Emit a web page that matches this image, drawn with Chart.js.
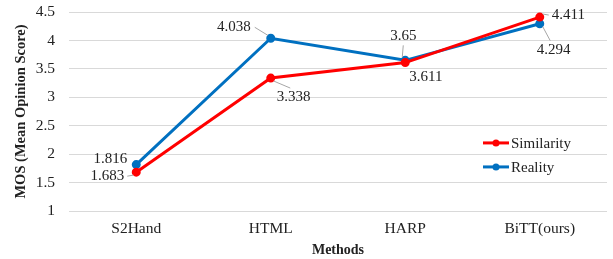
<!DOCTYPE html>
<html>
<head>
<meta charset="utf-8">
<script src="https://cdn.jsdelivr.net/npm/chart.js@4"></script>
<style>
  html, body { margin: 0; padding: 0; background: #fff; }
  #wrap { width: 613px; height: 259px; }
</style>
</head>
<body>
<div id="wrap"><canvas id="chart"></canvas></div>
<script>
const categories = ["S2Hand", "HTML", "HARP", "BiTT(ours)"];
const similarity = [1.683, 3.338, 3.611, 4.411];
const reality = [1.816, 4.038, 3.65, 4.294];
const yTicks = [1, 1.5, 2, 2.5, 3, 3.5, 4, 4.5];

const FONT = "'Liberation Serif', 'Times New Roman', serif";

// label offsets relative to the point: [dx, dy, align, leader?]
const simLabelPos = [[-12, 4, "right", true], [6, 19, "left", true], [4, 15, "left", false], [12, -2, "left", true]];
const realLabelPos = [[-9, -6, "right", false], [-20, -11, "right", true], [-2, -24, "center", true], [-3, 26, "left", true]];

const labelPlugin = {
  id: "labels",
  afterDatasetsDraw(chart) {
    const ctx = chart.ctx;
    ctx.save();
    ctx.font = "15px " + FONT;
    ctx.textBaseline = "middle";
    const sets = [[0, simLabelPos], [1, realLabelPos]];
    sets.forEach(([di, pos]) => {
      const meta = chart.getDatasetMeta(di);
      const vals = chart.data.datasets[di].data;
      meta.data.forEach((pt, i) => {
        const [dx, dy, align, leader] = pos[i];
        const tx = pt.x + dx, ty = pt.y + dy;
        const txt = String(vals[i]);
        ctx.textAlign = align;
        ctx.fillStyle = "#222";
        ctx.fillText(txt, tx, ty);
        if (leader) {
          const w = ctx.measureText(txt).width;
          let lx = tx, ly = ty;
          if (align === "right") lx = tx + 3;
          else if (align === "left") lx = tx - 3;
          else ly = ty + 9;
          if (align === "left" && dy > 10) { lx = tx + w * 0.4; ly = ty - 9; }
          if (align === "right" && dy < -5) { lx = tx + 4; ly = ty; }
          ctx.strokeStyle = "#a6a6a6";
          ctx.lineWidth = 1;
          ctx.beginPath();
          ctx.moveTo(lx, ly);
          ctx.lineTo(pt.x + (lx < pt.x ? -3 : lx > pt.x ? 3 : 0), pt.y + (ly < pt.y ? -3 : 3));
          ctx.stroke();
        }
      });
    });
    ctx.restore();
  }
};

const legendPlugin = {
  id: "insideLegend",
  afterDraw(chart) {
    const ctx = chart.ctx;
    const items = chart.data.datasets;
    const x0 = chart.chartArea.right - 124;
    const y0 = chart.scales.y.getPixelForValue(2.25) + 3;
    ctx.save();
    ctx.font = "15px " + FONT;
    ctx.textBaseline = "middle";
    ctx.textAlign = "left";
    items.forEach((ds, i) => {
      const y = y0 + i * 24;
      ctx.strokeStyle = ds.borderColor;
      ctx.lineWidth = 3;
      ctx.beginPath();
      ctx.moveTo(x0, y);
      ctx.lineTo(x0 + 26, y);
      ctx.stroke();
      ctx.fillStyle = ds.borderColor;
      ctx.beginPath();
      ctx.arc(x0 + 13, y, 3.5, 0, Math.PI * 2);
      ctx.fill();
      ctx.fillStyle = "#222";
      ctx.fillText(ds.label, x0 + 28, y + 1);
    });
    ctx.restore();
  }
};

new Chart(document.getElementById("chart"), {
  type: "line",
  data: {
    labels: categories,
    datasets: [
      {
        label: "Similarity",
        data: similarity,
        borderColor: "#ff0000",
        backgroundColor: "#ff0000",
        borderWidth: 3,
        pointRadius: 3,
        pointHoverRadius: 3,
        tension: 0
      },
      {
        label: "Reality",
        data: reality,
        borderColor: "#0070c0",
        backgroundColor: "#0070c0",
        borderWidth: 3,
        pointRadius: 3,
        pointHoverRadius: 3,
        tension: 0
      }
    ]
  },
  options: {
    responsive: true,
    maintainAspectRatio: false,
    animation: false,
    layout: { padding: { top: 12, right: -2, bottom: 0, left: 13 } },
    plugins: { legend: { display: false }, tooltip: { enabled: false } },
    scales: {
      x: {
        offset: true,
        afterFit(axis) { axis.height = 48; axis.paddingRight = 0; axis.paddingLeft = 0; },
        grid: { display: false, drawTicks: false },
        border: { display: false },
        ticks: { color: "#222", font: { family: FONT, size: 15.5 }, padding: 9 },
        title: { display: true, text: "Methods", color: "#222", font: { family: FONT, size: 14, weight: "bold" }, padding: { top: 0, bottom: 0 } }
      },
      y: {
        min: yTicks[0],
        max: yTicks[yTicks.length - 1],
        afterBuildTicks(axis) { axis.ticks = yTicks.map(v => ({ value: v })); },
        afterFit(axis) { axis.width = 56; axis.paddingTop = 0; axis.paddingBottom = 0; },
        grid: { color: "#d9d9d9", lineWidth: 1, drawTicks: false },
        border: { display: false },
        ticks: { color: "#222", font: { family: FONT, size: 15.5 }, padding: 14, callback: v => String(v) },
        title: { display: true, text: "MOS (Mean Opinion Score)", color: "#222", font: { family: FONT, size: 14.5, weight: "bold" }, padding: { top: 0, bottom: 0 } }
      }
    }
  },
  plugins: [labelPlugin, legendPlugin]
});
</script>
</body>
</html>
